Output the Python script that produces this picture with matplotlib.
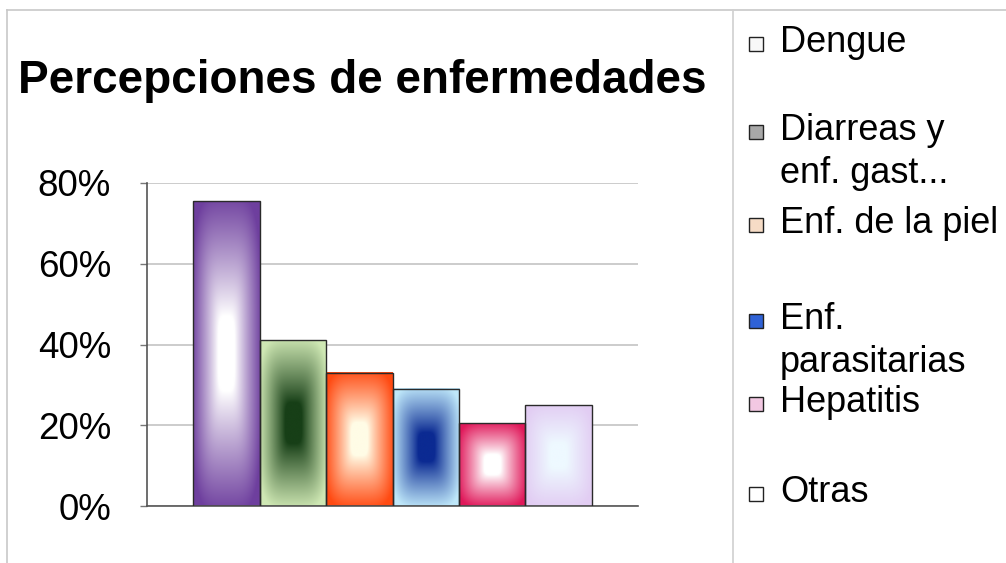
import numpy as np
import matplotlib
matplotlib.use("Agg")
import matplotlib.pyplot as plt
from matplotlib.colors import to_rgb
from matplotlib.lines import Line2D
from matplotlib.patches import Rectangle

plt.rcParams["font.family"] = ["Liberation Sans", "DejaVu Sans"]

# datos
categorias = ["Dengue", "Diarreas y\nenf. gast...", "Enf. de la piel",
              "Enf.\nparasitarias", "Hepatitis", "Otras"]
valores = [0.755, 0.41, 0.33, 0.29, 0.205, 0.25]
y_ticks = [0, 0.2, 0.4, 0.6, 0.8]
y_labels = ["0%", "20%", "40%", "60%", "80%"]

# colores del degradado (borde -> centro) y de la leyenda
color_borde = ["#6e3f9e", "#cfe8b4", "#ff4a12", "#bfe8fa", "#e0185a", "#e2cdf3"]
color_centro = ["#ffffff", "#173f17", "#fffce6", "#0b2a92", "#ffffff", "#eef9ff"]
color_leyenda = ["#f8f8f8", "#a8a8a8", "#f6dcc6", "#2f62d6", "#f2c8e2", "#ffffff"]

W, H = 1006, 563
fig = plt.figure(figsize=(W / 100, H / 100), dpi=100)
ax = fig.add_axes([147 / W, 1 - 506 / H, (638 - 147) / W, (506 - 183) / H])

x = np.arange(len(valores))
bars = ax.bar(x, valores, width=1.0, facecolor="none", edgecolor="#2a2a2a",
              linewidth=1.0, zorder=3)

# degradado rectangular suave desde el centro
yy, xx = np.mgrid[-1:1:240j, -1:1:240j]
t = (np.abs(xx) ** 4 + np.abs(yy) ** 4) ** 0.25
s = np.clip((t - 0.25) / 0.8, 0, 1) ** 0.9
for bar, cb, cc in zip(bars, color_borde, color_centro):
    b = np.array(to_rgb(cb))
    c = np.array(to_rgb(cc))
    img = c + (b - c) * s[..., None]
    x0 = bar.get_x()
    ax.imshow(img, extent=(x0, x0 + bar.get_width(), 0, bar.get_height()),
              aspect="auto", interpolation="bilinear", zorder=2)

ax.set_xlim(-1.2, 6.2)
ax.set_ylim(0, 0.8)
ax.set_xticks([])
ax.set_yticks(y_ticks)
ax.set_yticklabels(y_labels, fontsize=26.5)
ax.tick_params(axis="y", length=5, width=1, color="#777777", pad=21)
ax.yaxis.grid(True, color="#c4c4c4", linewidth=1.2, zorder=0)
ax.set_axisbelow(True)
for side in ["top", "right"]:
    ax.spines[side].set_visible(False)
for side in ["left", "bottom"]:
    ax.spines[side].set_color("#555555")
    ax.spines[side].set_linewidth(1.2)

fig.text(18 / W, 1 - 93 / H, "Percepciones de enfermedades", fontsize=33,
         fontweight="bold", va="baseline", ha="left")

# leyenda
leyenda_y = [31, 119, 212, 308, 391, 481]
for lab, col, ytop in zip(categorias, color_leyenda, leyenda_y):
    fig.text(780 / W, 1 - (ytop - 6) / H, lab, fontsize=26, va="top",
             ha="left", linespacing=1.3)
    fig.add_artist(Rectangle((749 / W, 1 - (ytop + 20) / H), 14 / W, 14 / H,
                             transform=fig.transFigure, facecolor=col,
                             edgecolor="#222222", linewidth=1.0))

# marco del grafico
fig.add_artist(Line2D([7 / W, 1], [1 - 10 / H, 1 - 10 / H],
                      transform=fig.transFigure, color="#c8c8c8", lw=1.2))
fig.add_artist(Line2D([7 / W, 7 / W], [0, 1 - 10 / H],
                      transform=fig.transFigure, color="#c8c8c8", lw=1.2))
fig.add_artist(Line2D([733 / W, 733 / W], [0, 1 - 10 / H],
                      transform=fig.transFigure, color="#d0d0d0", lw=1.2))

fig.savefig("out.png", dpi=100)
